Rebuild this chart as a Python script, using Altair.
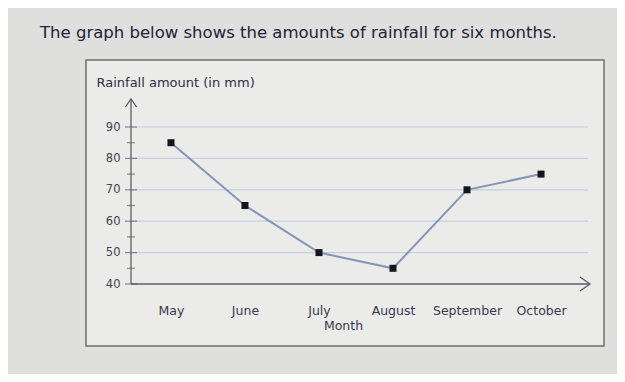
import altair as alt
import pandas as pd

months = ["May", "June", "July", "August", "September", "October"]
rainfall = [85, 65, 50, 45, 70, 75]
major_ticks = [40, 50, 60, 70, 80, 90]
minor_ticks = [45, 55, 65, 75, 85]
grid_values = [50, 60, 70, 80, 90]
title_text = "The graph below shows the amounts of rainfall for six months."
y_title = "Rainfall amount (in mm)"
x_title = "Month"

df = pd.DataFrame({"month": months, "rain": rainfall})
major_df = pd.DataFrame({"v": major_ticks})
minor_df = pd.DataFrame({"v": minor_ticks})
grid_df = pd.DataFrame({"v": grid_values})
one = alt.Data(values=[{"a": 1}])

FONT = "DejaVu Sans"
W, H = 450, 157

xscale = alt.Scale(domain=months, type="point", padding=0.54)
yscale = alt.Scale(domain=[40, 90], nice=False, zero=False)

yaxis = alt.Axis(
    title=y_title, values=major_ticks, domain=False, ticks=False, grid=False, zindex=1,
    labelPadding=11, labelFont=FONT, labelFontSize=11.5, labelColor="#44444e",
    titleFont=FONT, titleFontSize=13, titleColor="#2e2e44", titleFontWeight="normal",
    titleAngle=0, titleX=-35, titleY=-45, titleAlign="left", titleBaseline="middle",
)
xaxis = alt.Axis(
    title=x_title, labelAngle=0, domain=False, ticks=False, grid=False, zindex=1,
    labelPadding=20, labelFont=FONT, labelFontSize=12.5, labelColor="#3a3a4c",
    titleFont=FONT, titleFontSize=12.5, titleColor="#3a3a4c", titleFontWeight="normal",
    titleX=212, titleY=41, titleBaseline="middle", titleAlign="center",
)

box = alt.Chart(one).mark_rect(fill="#ebebe9", stroke="#6f6f72", strokeWidth=1.5).encode(
    x=alt.value(-45), x2=alt.value(473), y=alt.value(-67), y2=alt.value(219)
)

title = alt.Chart(one).mark_text(
    text=title_text, align="left", baseline="middle", font=FONT, fontSize=16.5, color="#22223a"
).encode(x=alt.value(-91), y=alt.value(-94))

grid = alt.Chart(grid_df).mark_rule(color="#c5cfe2", strokeWidth=1.2).encode(
    y=alt.Y("v:Q", scale=yscale, axis=yaxis), x=alt.value(0), x2=alt.value(457)
)

yaxis_line = alt.Chart(one).mark_rule(color="#5d5d66", strokeWidth=1.3).encode(
    x=alt.value(0), y=alt.value(-28), y2=alt.value(H)
)
xaxis_line = alt.Chart(one).mark_rule(color="#5d5d66", strokeWidth=1.3).encode(
    x=alt.value(0), x2=alt.value(459), y=alt.value(H)
)
x_arrow = alt.Chart(one).mark_point(
    shape="M-1,-0.7L0,0L-1,0.7", size=400, filled=False, stroke="#5d5d66", strokeWidth=1.3, opacity=1
).encode(x=alt.value(459), y=alt.value(H))
y_arrow = alt.Chart(one).mark_point(
    shape="M-0.7,1L0,0L0.7,1", size=256, filled=False, stroke="#5d5d66", strokeWidth=1.3, opacity=1
).encode(x=alt.value(0), y=alt.value(-28))

major = alt.Chart(major_df).mark_tick(color="#5d5d66", size=12, thickness=1.2).encode(
    y=alt.Y("v:Q", scale=yscale, axis=yaxis), x=alt.value(0)
)
minor = alt.Chart(minor_df).mark_tick(color="#5d5d66", size=8, thickness=1.2).encode(
    y=alt.Y("v:Q", scale=yscale, axis=yaxis), x=alt.value(0)
)

base = alt.Chart(df).encode(
    x=alt.X("month:N", scale=xscale, sort=months, axis=xaxis),
    y=alt.Y("rain:Q", scale=yscale, axis=yaxis),
)
line = base.mark_line(color="#8595b6", strokeWidth=2)
points = base.mark_square(color="#15151c", size=49, opacity=1)

chart = alt.layer(
    box, title, grid, yaxis_line, xaxis_line, x_arrow, y_arrow, major, minor, line, points
).properties(
    width=W, height=H,
    autosize=alt.AutoSizeParams(type="none"),
    padding={"left": 123, "top": 119, "right": 36, "bottom": 90},
    background="#dfdfdd",
).configure_view(stroke=None)

chart.save("out.html", embed_options={"renderer": "svg", "actions": False})
